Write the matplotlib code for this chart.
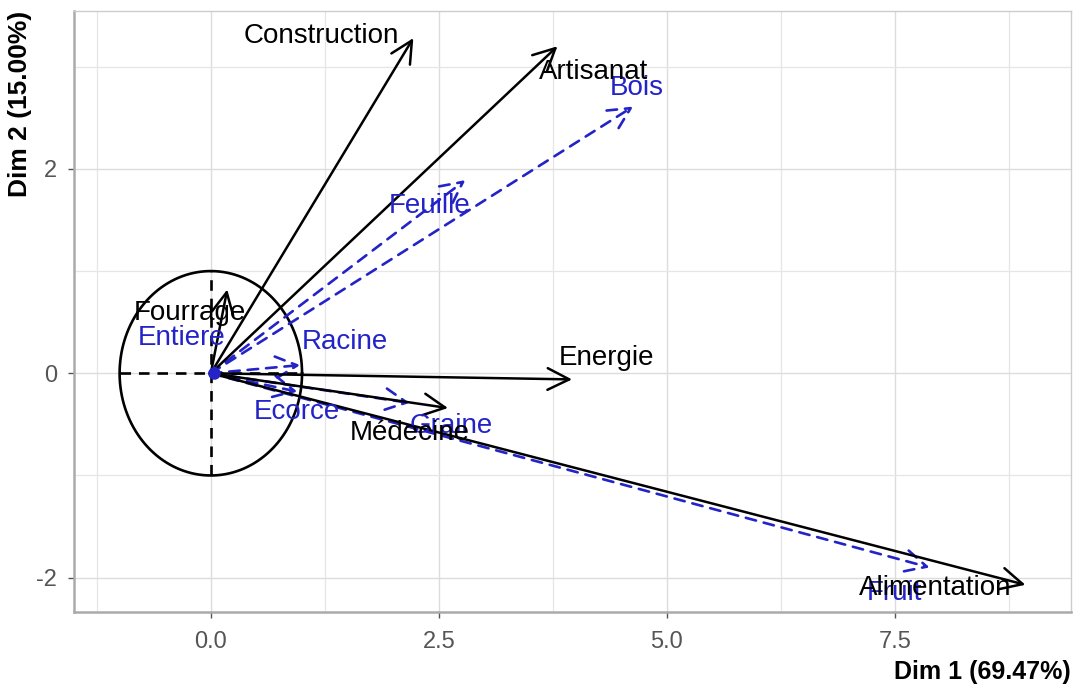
import matplotlib
matplotlib.use("Agg")
import matplotlib.pyplot as plt
import numpy as np

plt.rcParams['font.family'] = ['Liberation Sans', 'DejaVu Sans']

# Column points (usages) - solid black arrows
usage_names = ["Construction", "Artisanat", "Fourrage", "Energie", "Médecine", "Alimentation"]
usage_x = [2.22, 3.80, 0.18, 3.96, 2.60, 8.93]
usage_y = [3.28, 3.20, 0.82, -0.06, -0.34, -2.07]
usage_lab_x = [1.21, 4.20, -0.23, 4.34, 2.18, 7.94]
usage_lab_y = [3.30, 2.95, 0.59, 0.15, -0.58, -2.10]

# Row points (plant parts) - dashed blue arrows
part_names = ["Bois", "Feuille", "Entiere", "Racine", "Ecorce", "Graine", "Fruit"]
part_x = [4.63, 2.79, 0.04, 0.98, 0.95, 2.18, 7.88]
part_y = [2.61, 1.89, 0.04, 0.08, -0.18, -0.29, -1.90]
part_lab_x = [4.67, 2.40, -0.32, 1.47, 0.94, 2.64, 7.49]
part_lab_y = [2.79, 1.64, 0.345, 0.31, -0.38, -0.52, -2.15]

xlabel = "Dim 1 (69.47%)"
ylabel = "Dim 2 (15.00%)"
xticks = [0.0, 2.5, 5.0, 7.5]
xtick_labels = ["0.0", "2.5", "5.0", "7.5"]
yticks = [-2, 0, 2]
ytick_labels = ["-2", "0", "2"]

BLUE = "#2323c8"

fig = plt.figure(figsize=(10.81, 6.89), dpi=100)
ax = fig.add_axes([74 / 1081, 77 / 689, (1071 - 74) / 1081, (612 - 11) / 689])
ax.set_xlim(-1.5, 9.43)
ax.set_ylim(-2.336, 3.545)

# grid
ax.set_xticks(xticks)
ax.set_xticklabels(xtick_labels)
ax.set_yticks(yticks)
ax.set_yticklabels(ytick_labels)
ax.set_xticks([-1.25, 1.25, 3.75, 6.25, 8.75], minor=True)
ax.set_yticks([-1, 1, 3], minor=True)
ax.grid(which='major', color='#dcdcdc', lw=1.0)
ax.grid(which='minor', color='#e6e6e6', lw=0.9)
ax.set_axisbelow(True)
ax.tick_params(axis='x', which='major', pad=10)
ax.tick_params(which='major', colors='#555555', labelsize=17, length=4, width=1)
ax.tick_params(axis='y', which='major', pad=8)
ax.tick_params(which='minor', length=0)
for t in ax.get_xticklabels() + ax.get_yticklabels():
    t.set_color('#555555')
for s in ['left', 'bottom']:
    ax.spines[s].set_color('#aaaaaa')
    ax.spines[s].set_linewidth(1.8)
for s in ['top', 'right']:
    ax.spines[s].set_color('#cccccc')
    ax.spines[s].set_linewidth(1.0)

# unit circle and dashed cross
theta = np.linspace(0, 2 * np.pi, 300)
ax.plot(np.cos(theta), np.sin(theta), color='black', lw=1.9, zorder=2)
ax.plot([-1, 1], [0, 0], color='black', lw=1.9, ls=(0, (4, 3)), zorder=2)
ax.plot([0, 0], [-1, 1], color='black', lw=1.9, ls=(0, (4, 3)), zorder=2)

arrow_style = "->,head_length=0.6,head_width=0.3"


def draw_arrow(x, y, color, lw, ls):
    if np.hypot(x, y) < 0.2:
        # vector too short for a visible head: draw as a thick stub
        ax.plot([0, x], [0, y], color=color, lw=4, solid_capstyle='round', zorder=5)
        return
    ax.annotate('', xy=(x, y), xytext=(0, 0),
                arrowprops=dict(arrowstyle=arrow_style, color=color, lw=lw,
                                linestyle=ls, shrinkA=0, shrinkB=0,
                                mutation_scale=26), zorder=3)


for x, y in zip(part_x, part_y):
    draw_arrow(x, y, BLUE, 1.9, (0, (4, 3)))

for x, y in zip(usage_x, usage_y):
    draw_arrow(x, y, 'black', 1.8, '-')

ax.plot([0.03], [0.0], 'o', color=BLUE, ms=8, zorder=5)

for name, x, y in zip(part_names, part_lab_x, part_lab_y):
    ax.text(x, y, name, color=BLUE, fontsize=20, ha='center', va='center', zorder=6)
for name, x, y in zip(usage_names, usage_lab_x, usage_lab_y):
    ax.text(x, y, name, color='black', fontsize=20, ha='center', va='center', zorder=6)

ax.set_xlabel(xlabel, fontsize=18, fontweight='bold', loc='right', labelpad=5)
ax.set_ylabel(ylabel, fontsize=19, fontweight='bold', loc='top', labelpad=3)

fig.savefig("out.png", dpi=100, facecolor='white')
